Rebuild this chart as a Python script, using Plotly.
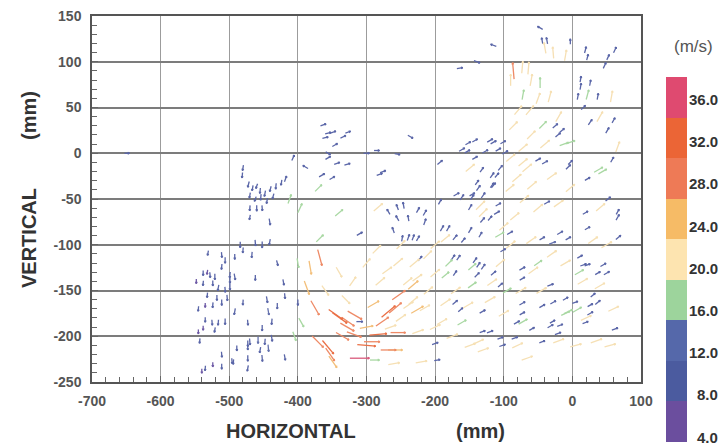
import math
import plotly.graph_objects as go

# Velocity vectors, one row per vector: [x (mm), y (mm), flow direction (deg), speed (m/s)]
left_cluster = [
    [-470, -60, -95, 9], [-460, -60, -90, 10], [-452, -60, -85, 9], [-470, -70, -100, 8], [-441, -75, -80, 11],
    [-484, -100, -90, 10], [-480, -106, -95, 9], [-462, -98, -85, 10], [-452, -100, -90, 11], [-441, -97, -100, 10],
    [-492, -113, -90, 9], [-467, -111, -95, 10], [-531, -109, -100, 8], [-511, -111, -85, 9], [-506, -117, -90, 10],
    [-511, -124, -95, 9], [-538, -131, -90, 8], [-532, -130, -100, 7], [-528, -133, -85, 9], [-521, -135, -90, 10],
    [-499, -133, -95, 10], [-499, -139, -90, 9], [-492, -135, -80, 11], [-462, -136, -90, 9], [-538, -142, -95, 8],
    [-524, -142, -90, 9], [-516, -147, -100, 10], [-506, -149, -85, 9], [-499, -146, -90, 11], [-532, -155, -95, 8],
    [-518, -158, -90, 9], [-503, -158, -85, 10], [-480, -163, -95, 9], [-445, -160, -80, 11], [-535, -166, -90, 7],
    [-524, -166, -95, 9], [-511, -163, -90, 10], [-492, -173, -100, 11], [-473, -185, -85, 9], [-452, -191, -90, 10],
    [-443, -173, -80, 12], [-438, -184, -95, 10], [-535, -182, -90, 8], [-525, -185, -85, 9], [-516, -185, -95, 9],
    [-506, -184, -90, 10], [-521, -193, -100, 8], [-538, -191, -90, 7], [-470, -206, -85, 11], [-458, -204, -90, 12],
    [-448, -206, -95, 10], [-438, -202, -80, 11], [-473, -212, -90, 9], [-455, -215, -100, 10], [-443, -213, -85, 12],
    [-489, -213, -90, 9], [-494, -228, -95, 8], [-473, -224, -90, 10], [-511, -220, -85, 9], [-524, -231, -90, 7],
    [-535, -235, -95, 8], [-511, -233, -90, 9], [-473, -235, -100, 10], [-452, -224, -85, 11], [-548, -140, -90, 7],
    [-545, -170, -95, 8], [-545, -195, -90, 7], [-430, -120, -75, 9], [-421, -141, -80, 10], [-419, -156, -85, 9],
    [-430, -167, -90, 10], [-419, -223, -80, 10], [-543, -205, -95, 8], [-540, -238, -90, 7], [-496, -227, -85, 9],
    [-473, -208, -90, 10],
]

upper_left = [
    [-480, -16, -100, 9], [-481, -24, -95, 9], [-472, -34, -105, 10], [-466, -38, -100, 9], [-460, -36, -110, 8],
    [-455, -41, -95, 9], [-448, -44, -100, 10], [-440, -39, -105, 9], [-432, -36, -95, 10], [-424, -32, -100, 9],
    [-470, -46, -100, 9], [-462, -50, -110, 8], [-454, -48, -95, 10], [-445, -52, -100, 9], [-436, -47, -105, 9],
    [-418, -28, 70, 10], [-407, -5, 65, 10], [-389, -15, 150, 10], [-412, -50, 70, 17], [-397, -60, 65, 18],
]

mid_upper = [
    [-363, 31, 20, 10], [-356, 22, 15, 10], [-349, 23, 20, 11], [-334, 18, 25, 10], [-327, 23, 20, 9],
    [-360, 17, 15, 10], [-346, 9, 30, 10], [-356, 0, -30, 9], [-356, -5, 30, 10], [-343, -11, 20, 10],
    [-328, -12, 15, 10], [-365, -24, 30, 11], [-350, -27, 30, 10], [-370, -38, 45, 17], [-236, 18, -30, 10],
    [-285, 3, 0, 9], [-300, 0, 0, 10], [-255, -1, -10, 9], [-276, -20, 20, 10], [-281, -23, 20, 10],
    [-193, -10, 40, 11], [-164, 93, 10, 10], [-139, 100, -20, 11], [-649, 0, 0, 8], [-340, -65, 40, 18],
    [-368, -93, 45, 18], [-400, -163, -90, 10],
]

top_right = [
    [-47, 137, 150, 10], [-115, 118, 160, 10], [-44, 123, 100, 10], [-37, 123, 100, 11], [-40, 115, 100, 20],
    [-28, 110, 95, 21], [-3, 122, 90, 9], [-10, 107, 80, 20], [19, 113, 75, 11], [22, 105, 75, 10],
    [62, 113, 65, 11], [52, 105, 65, 10], [47, 96, 65, 11], [-86, 90, 95, 31], [-73, 94, 85, 22],
    [-64, 93, 85, 23], [-47, 77, 90, 19], [-72, 64, 80, 18], [-33, 62, 75, 21], [12, 81, 80, 10],
    [12, 73, 80, 11], [26, 77, 80, 10], [8, 62, 80, 11], [22, 64, 75, 18], [37, 62, 80, 11],
    [57, 62, 80, 21], [16, 50, 45, 10], [26, 34, 55, 11], [60, 36, 60, 10], [51, 25, 60, 11],
    [66, 7, 70, 20], [-25, 30, 40, 11], [-15, 25, 40, 10], [-21, 20, 40, 11], [-43, 31, 45, 18],
    [-79, 47, 50, 21], [-62, 47, 50, 22], [-86, 30, 45, 21], [-3, 12, 20, 18], [-12, 10, 20, 17],
    [-101, 12, 30, 10], [-115, 12, 30, 11], [-108, 4, 30, 10], [-98, 1, 30, 11], [-72, 6, 40, 21],
    [-50, -7, 30, 10], [-40, -10, 30, 11], [-3, -10, 45, 10], [-6, -15, 45, 11], [58, -7, 60, 10],
    [38, -18, 30, 18], [44, -20, 30, 17], [22, -28, 30, 10], [-105, -16, 50, 11], [-110, -24, 50, 10],
    [-115, -35, 50, 11], [-72, -10, 40, 21], [-66, -16, 40, 22], [-81, -27, 40, 21], [-59, -35, 40, 22],
    [-3, -38, 40, 21], [-91, -38, 40, 20],
]

center_blue = [
    [-142, 14, 30, 10], [-120, 14, 30, 11], [-152, 11, 30, 10], [-161, 4, 30, 11], [-153, 2, 30, 10],
    [-127, 2, 30, 11], [-142, -5, 30, 10], [-149, -16, 40, 21], [-132, -18, 55, 10], [-117, -24, 55, 11],
    [-139, -32, 55, 10], [-137, -38, 55, 11], [-117, -35, 55, 10], [-161, -48, 55, 11], [-146, -48, 55, 10],
    [-130, -46, 55, 11],
]

mid_blue = [
    [-283, -59, 40, 21], [-268, -64, 120, 10], [-255, -59, 110, 10], [-246, -57, 100, 11], [-225, -62, 60, 10],
    [-215, -65, 60, 11], [-255, -71, 120, 10], [-239, -71, 100, 10], [-215, -75, 70, 11], [-261, -84, 110, 10],
    [-248, -93, 80, 10], [-239, -92, 70, 11], [-232, -92, 70, 10], [-225, -93, 60, 10], [-310, -88, 30, 11],
    [-190, -82, 60, 11], [-193, -53, 60, 10], [-169, -45, 30, 11], [-146, -45, 30, 10], [-149, -59, 60, 11],
    [-134, -57, 45, 23], [-131, -73, 50, 11], [-120, -71, 50, 10], [-149, -84, 60, 11], [-134, -89, 60, 10],
    [-171, -92, 50, 11], [-159, -95, 50, 10], [-181, -82, 60, 11], [-185, -93, 40, 21], [-174, -114, 55, 11],
    [-166, -114, 55, 10], [-142, -117, 55, 11], [-137, -122, 55, 10], [-130, -124, 55, 11], [-171, -131, 55, 10],
    [-139, -133, 45, 11], [-222, -115, 50, 10], [-146, -124, 40, 18], [-185, -133, 40, 17], [-146, -144, 35, 18],
    [-310, -184, 0, 11], [-200, -208, 20, 11], [-197, -226, 10, 10], [-171, -163, 40, 11], [-163, -171, 40, 10],
    [-131, -173, 30, 11], [-131, -195, 20, 10], [-120, -195, 20, 11], [-161, -185, 30, 18],
]

arc = [
    [-382, -125, -80, 25], [-368, -114, -75, 31], [-387, -147, -70, 27], [-375, -169, -60, 31], [-345, -176, -35, 32],
    [-339, -180, -35, 34], [-328, -190, -30, 30], [-317, -177, -30, 31], [-327, -184, -35, 29], [-371, -206, -45, 30],
    [-356, -212, -50, 33], [-353, -220, -55, 29], [-349, -228, -55, 26], [-292, -206, 0, 30], [-300, -210, -5, 35],
    [-283, -198, 5, 33], [-268, -215, 0, 29], [-258, -215, 0, 27], [-254, -196, 0, 28], [-310, -224, 0, 37],
    [-288, -226, 0, 17], [-253, -155, 35, 30], [-268, -173, 40, 34], [-258, -169, 40, 30], [-277, -184, 35, 29],
    [-239, -166, 35, 22], [-226, -171, 30, 26], [-232, -161, 40, 22], [-215, -169, 30, 21], [-232, -144, 40, 24],
    [-318, -198, -20, 29], [-335, -200, -30, 28], [-300, -190, 10, 25],
]

faint = [
    [-270, -128, 35, 21], [-254, -119, 40, 22], [-226, -136, 35, 21], [-200, -131, 40, 22], [-211, -111, 45, 21],
    [-117, -141, 35, 21], [-185, -163, 35, 22], [-152, -166, 30, 21], [-190, -184, 30, 21], [-225, -195, 20, 22],
    [-149, -210, 20, 21], [-137, -206, 25, 21], [-240, -140, 40, 21], [-280, -140, 40, 22], [-300, -120, 50, 21],
    [-320, -140, 55, 20], [-285, -105, 45, 21], [-250, -100, 45, 22], [-200, -100, 40, 21], [-230, -120, 40, 23],
    [-170, -150, 35, 21], [-120, -160, 30, 22], [-100, -175, 30, 21], [-105, -120, 40, 21], [-90, -100, 40, 22],
    [-200, -190, 25, 21], [-175, -200, 20, 22], [-260, -230, 10, 21], [-220, -228, 10, 21], [-66, -224, 20, 21],
    [-80, -210, 25, 21], [-20, -205, 20, 21], [5, -210, 15, 21], [35, -205, 20, 22], [55, -210, 15, 21],
    [-130, -215, 20, 21], [-60, 20, 45, 21], [-40, 10, 40, 22], [-90, -5, 40, 21], [-30, -25, 35, 21],
    [-70, -50, 40, 21], [-50, -60, 40, 22], [-20, -55, 35, 21], [-130, -65, 45, 21], [-100, -80, 40, 21],
    [-60, -95, 35, 22], [-30, -110, 35, 21], [-10, -120, 30, 21], [30, -95, 35, 21], [50, -100, 30, 22],
    [40, -145, 30, 21], [15, -140, 30, 21], [-45, -150, 30, 21], [-75, -150, 30, 22], [20, -180, 25, 21],
    [60, -170, 25, 21], [-250, -180, 35, 22], [-210, -150, 40, 21], [-340, -130, -60, 21], [-360, -150, -55, 22],
    [-330, -160, -45, 21], [-395, -185, -60, 18], [-405, -200, -70, 17], [-400, -120, -80, 17], [-290, -165, 30, 24],
    [-265, -190, 20, 22], [-180, -120, 45, 17], [-95, -150, 30, 17], [-50, -120, 35, 17], [-10, -175, 25, 17],
    [10, -130, 30, 18], [-20, 40, 60, 21], [-50, 60, 70, 21], [-60, 80, 80, 22], [40, 40, 60, 21],
    [-90, 80, 90, 21],
]

lower_right = [
    [-110, -65, 30, 11], [-108, -56, 30, 10], [-37, -54, 30, 11], [-44, -93, 30, 10], [-29, -98, 20, 12],
    [-18, -87, 30, 11], [-6, -93, 30, 10], [-91, -87, 30, 11], [19, -65, 30, 10], [52, -50, 40, 11],
    [66, -64, 60, 10], [66, -70, 60, 11], [22, -82, 30, 10], [67, -92, 40, 11], [-101, -106, 30, 10],
    [-115, -131, 40, 11], [-105, -144, 40, 10], [-73, -126, 30, 11], [-73, -137, 30, 10], [-32, -144, 20, 11],
    [11, -113, 30, 10], [16, -122, 20, 11], [22, -122, 20, 10], [45, -122, 30, 11], [37, -131, 30, 10],
    [50, -131, 30, 11], [30, -155, 40, 10], [37, -163, 40, 11], [26, -166, 30, 10], [26, -175, 30, 11],
    [4, -163, 20, 10], [-28, -163, 30, 11], [-10, -159, 30, 10], [-73, -164, 30, 11], [-73, -175, 30, 10],
    [-81, -185, 30, 11], [-59, -192, 30, 10], [-44, -167, 30, 11], [-29, -184, 30, 10], [-32, -189, 30, 11],
    [-18, -188, 20, 10], [-21, -197, 20, 11], [19, -185, 20, 10], [62, -192, 20, 11], [-105, -202, 20, 10],
    [-84, -202, 20, 11], [-44, -206, 20, 10], [-102, -210, 20, 11], [-106, -89, 30, 18], [7, -171, 30, 18],
    [-6, -173, 25, 17], [-72, -184, 30, 18], [-84, -69, 40, 21], [41, -59, 40, 21], [-57, -128, 35, 21],
]

# Speed legend: 4 m/s bands from 4 to 40
band_edges = [4, 8, 12, 16, 20, 24, 28, 32, 36, 40]
band_colors = ["#6b4e9e", "#4b5b9f", "#5568aa", "#9dd49c", "#fde4b0",
               "#f6bb66", "#ee7a56", "#eb6536", "#df4a70"]
# arrows are drawn slightly lighter than the legend swatches
arrow_colors = ["#6e5aa6", "#5a66a8", "#6572ae", "#a9d8a3", "#f6e0b4",
                "#f3bf7a", "#ee8a66", "#ea7046", "#d95a7c"]
legend_labels = ["4.0", "8.0", "12.0", "16.0", "20.0", "24.0", "28.0", "32.0", "36.0"]

X_RANGE = [-700, 100]
Y_RANGE = [-250, 150]
X_TICKS = [-700, -600, -500, -400, -300, -200, -100, 0, 100]
Y_TICKS = [-250, -200, -150, -100, -50, 0, 50, 100, 150]

W, H = 722, 447
ML, MR, MT, MB = 92, 81, 16, 65
PW, PH = W - ML - MR, H - MT - MB
sx = PW / (X_RANGE[1] - X_RANGE[0])   # px per mm, horizontal
sy = PH / (Y_RANGE[1] - Y_RANGE[0])   # px per mm, vertical


def px_x(p):
    """pixel column -> paper fraction"""
    return (p - ML) / PW


def px_y(p):
    """pixel row -> paper fraction"""
    return (H - MB - p) / PH


def band_of(s):
    for i in range(len(band_colors)):
        if s < band_edges[i + 1]:
            return i
    return len(band_colors) - 1


seg_x = [[] for _ in band_colors]
seg_y = [[] for _ in band_colors]

for x, y, d, s in (left_cluster + upper_left + mid_upper + top_right + center_blue
                   + mid_blue + arc + faint + lower_right):
    b = band_of(s)
    length = 0.5 * s + 1.0                       # arrow length in px
    a = math.radians(d)
    hx = 0.5 * length * math.cos(a) / sx
    hy = 0.5 * length * math.sin(a) / sy
    x0, y0, x1, y1 = x - hx, y - hy, x + hx, y + hy
    seg_x[b] += [x0, x1, None]
    seg_y[b] += [y0, y1, None]
    for da in (155, -155):
        ah = math.radians(d + da)
        seg_x[b] += [x1, x1 + 2.0 * math.cos(ah) / sx, None]
        seg_y[b] += [y1, y1 + 2.0 * math.sin(ah) / sy, None]

fig = go.Figure()
for i, c in enumerate(arrow_colors):
    if seg_x[i]:
        fig.add_trace(go.Scatter(
            x=seg_x[i], y=seg_y[i], mode="lines",
            line=dict(color=c, width=1.3),
            hoverinfo="skip", showlegend=False))

# discrete colour scale for the speed bar
cscale = []
n = len(band_colors)
for i, c in enumerate(band_colors):
    cscale += [[i / n, c], [(i + 1) / n, c]]

BAR_TOP, BAR_BOTTOM = 77, 442
fig.add_trace(go.Scatter(
    x=[-900], y=[-900], mode="markers", showlegend=False, hoverinfo="skip",
    marker=dict(size=1, color=[4], cmin=band_edges[0], cmax=band_edges[-1],
                colorscale=cscale, showscale=True,
                colorbar=dict(
                    thickness=21, thicknessmode="pixels",
                    len=BAR_BOTTOM - BAR_TOP, lenmode="pixels",
                    x=px_x(666), xanchor="left",
                    y=px_y(BAR_TOP), yanchor="top",
                    xpad=0, ypad=0, outlinewidth=0,
                    ticks="", showticklabels=False,
                ))))

axis_font = dict(family="Liberation Sans, Arial", size=14, color="#555555", weight="bold")
title_font = dict(family="Liberation Sans, Arial", size=20, color="#333333", weight="bold")
legend_font = dict(family="Liberation Sans Narrow, Liberation Sans, Arial", size=15,
                   color="#333333", weight="bold")

annotations = [
    dict(text="(m/s)", xref="paper", yref="paper", x=px_x(693), y=px_y(47),
         showarrow=False, xanchor="center", yanchor="middle",
         font=dict(family="Liberation Sans, Arial", size=17, color="#555555")),
    dict(text="VERTICAL", xref="paper", yref="paper", x=px_x(29), y=px_y(238),
         showarrow=False, textangle=-90, xanchor="center", yanchor="middle", font=title_font),
    dict(text="(mm)", xref="paper", yref="paper", x=px_x(29), y=px_y(116),
         showarrow=False, textangle=-90, xanchor="center", yanchor="middle", font=title_font),
    dict(text="HORIZONTAL", xref="paper", yref="paper", x=px_x(291), y=px_y(431),
         showarrow=False, xanchor="center", yanchor="middle", font=title_font),
    dict(text="(mm)", xref="paper", yref="paper", x=px_x(480), y=px_y(431),
         showarrow=False, xanchor="center", yanchor="middle", font=title_font),
]
# speed legend labels, stepped up the bar from 4.0 at its foot
for i, lab in enumerate(legend_labels):
    annotations.append(dict(text=lab, xref="paper", yref="paper",
                            x=px_x(720), y=px_y(437 - 42.2 * i),
                            showarrow=False, xanchor="right", yanchor="middle",
                            font=legend_font))

fig.update_layout(
    width=W, height=H,
    margin=dict(l=ML, r=MR, t=MT, b=MB, autoexpand=False),
    paper_bgcolor="white", plot_bgcolor="white",
    xaxis=dict(range=X_RANGE, tickvals=X_TICKS, ticktext=[str(v) for v in X_TICKS],
               showgrid=True, gridcolor="#9c9c9c", gridwidth=1.2, zeroline=False,
               showline=True, linecolor="#555555", linewidth=1.5, mirror=True,
               ticks="inside", ticklen=6, tickcolor="#666666",
               minor=dict(dtick=20, tick0=0, ticks="inside", ticklen=5, tickcolor="#666666",
                          showgrid=False),
               tickfont=axis_font, ticklabelstandoff=5),
    yaxis=dict(range=Y_RANGE, tickvals=Y_TICKS, ticktext=[str(v) for v in Y_TICKS],
               showgrid=True, gridcolor="#7c7c7c", gridwidth=1.6, zeroline=False,
               showline=True, linecolor="#555555", linewidth=1.5, mirror=True,
               ticks="inside", ticklen=6, tickcolor="#666666",
               minor=dict(dtick=10, tick0=0, ticks="inside", ticklen=5, tickcolor="#666666",
                          showgrid=False),
               tickfont=axis_font, ticklabelstandoff=6),
    annotations=annotations,
)

fig.write_html("out.html")
